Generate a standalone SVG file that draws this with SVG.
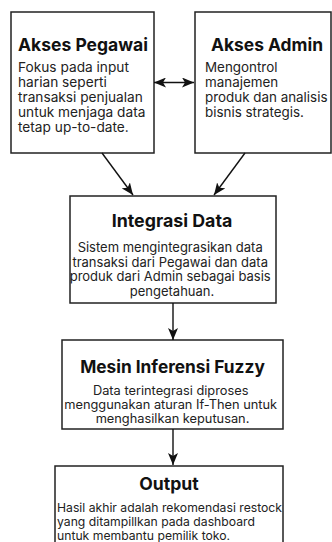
<svg xmlns="http://www.w3.org/2000/svg" width="332" height="542" viewBox="0 0 332 542">
<style>
.box{fill:#fff;stroke:#222;stroke-width:1.5}
.t{font-family:Inter,"Liberation Sans",sans-serif;font-weight:700;fill:#111}
.b{font-family:Inter,"Liberation Sans",sans-serif;fill:#222}
.c{stroke:#111;stroke-width:1.4;fill:none}
</style>
<defs>
<marker id="ah" viewBox="0 0 12 10" refX="12" refY="5" markerWidth="12" markerHeight="10" markerUnits="userSpaceOnUse" orient="auto-start-reverse">
<path d="M0,0 L12,5 L0,10 L3,5 Z" fill="#111"/>
</marker>
</defs>
<rect width="332" height="542" fill="#fff"/>
<g id="akses-pegawai">
<rect class="box" x="11" y="12" width="143" height="141"/>
<text class="t" x="18" y="51" font-size="17.5">Akses Pegawai</text>
<text class="b" font-size="13.7">
<tspan x="18" y="72">Fokus pada input</tspan>
<tspan x="18" y="87">harian seperti</tspan>
<tspan x="18" y="102">transaksi penjualan</tspan>
<tspan x="18" y="117">untuk menjaga data</tspan>
<tspan x="18" y="132">tetap up-to-date.</tspan>
</text>
</g>
<g id="akses-admin">
<rect class="box" x="195" y="12" width="136" height="141"/>
<text class="t" x="267" y="51" font-size="17.4" text-anchor="middle">Akses Admin</text>
<text class="b" font-size="13.4">
<tspan x="205" y="72">Mengontrol</tspan>
<tspan x="205" y="87">manajemen</tspan>
<tspan x="205" y="102">produk dan analisis</tspan>
<tspan x="205" y="117">bisnis strategis.</tspan>
</text>
</g>
<g id="integrasi-data">
<rect class="box" x="70" y="196" width="206" height="107"/>
<text class="t" x="172" y="227" font-size="17.8" text-anchor="middle">Integrasi Data</text>
<text class="b" font-size="13" text-anchor="middle">
<tspan x="172" y="252">Sistem mengintegrasikan data</tspan>
<tspan x="172" y="266.5">transaksi dari Pegawai dan data</tspan>
<tspan x="172" y="281">produk dari Admin sebagai basis</tspan>
<tspan x="172" y="295.5">pengetahuan.</tspan>
</text>
</g>
<g id="mesin-inferensi-fuzzy">
<rect class="box" x="62" y="340" width="221" height="89"/>
<text class="t" x="172.5" y="373" font-size="17.3" text-anchor="middle">Mesin Inferensi Fuzzy</text>
<text class="b" font-size="12.8" text-anchor="middle">
<tspan x="172.5" y="395">Data terintegrasi diproses</tspan>
<tspan x="172.5" y="409">menggunakan aturan If-Then untuk</tspan>
<tspan x="172.5" y="423">menghasilkan keputusan.</tspan>
</text>
</g>
<g id="output">
<rect class="box" x="55" y="466" width="228" height="90"/>
<text class="t" x="169" y="490" font-size="17.6" text-anchor="middle">Output</text>
<text class="b" font-size="12.2">
<tspan x="57" y="512">Hasil akhir adalah rekomendasi restock</tspan>
<tspan x="57" y="526">yang ditampillkan pada dashboard</tspan>
<tspan x="57" y="540">untuk membantu pemilik toko.</tspan>
</text>
</g>
<g id="connectors">
<line class="c" x1="154" y1="82.5" x2="194" y2="82.5" marker-start="url(#ah)" marker-end="url(#ah)"/>
<line class="c" x1="102" y1="153" x2="133" y2="195" marker-end="url(#ah)"/>
<line class="c" x1="245" y1="153" x2="214" y2="195" marker-end="url(#ah)"/>
<line class="c" x1="173" y1="303" x2="173" y2="340" marker-end="url(#ah)"/>
<line class="c" x1="173" y1="429" x2="173" y2="465" marker-end="url(#ah)"/>
</g>
</svg>
